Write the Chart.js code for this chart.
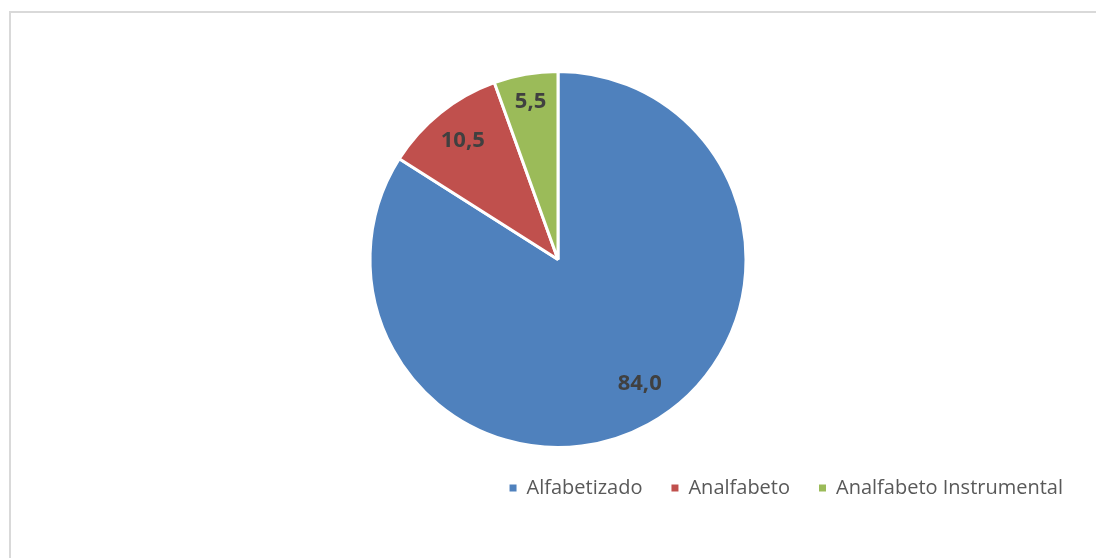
<!DOCTYPE html>
<html>
<head>
<meta charset="utf-8">
<script src="https://cdn.jsdelivr.net/npm/chart.js@4/dist/chart.umd.min.js"></script>
<style>
  html, body { margin: 0; padding: 0; background: #ffffff; overflow: hidden; }
  #wrap { position: relative; width: 1096px; height: 558px; }
  #frame { position: absolute; left: 9px; top: 11px; width: 1200px; height: 700px; border: 2px solid #d9d9d9; box-sizing: border-box; }
  canvas { position: absolute; left: 0; top: 0; }
</style>
</head>
<body>
<div id="wrap">
  <div id="frame"></div>
  <canvas id="c" width="1096" height="558"></canvas>
</div>
<script>
const categories = ["Alfabetizado", "Analfabeto", "Analfabeto Instrumental"];
const values = [84.0, 10.5, 5.5];
const valueLabels = ["84,0", "10,5", "5,5"];
const colors = ["#4F81BD", "#C0504D", "#9BBB59"];

const sliceLabels = {
  id: "sliceLabels",
  afterDatasetsDraw(chart) {
    const ctx = chart.ctx;
    const meta = chart.getDatasetMeta(0);
    ctx.save();
    ctx.font = "bold 22px 'Open Sans'";
    ctx.fillStyle = "#404040";
    ctx.textAlign = "center";
    ctx.textBaseline = "middle";
    meta.data.forEach((arc, i) => {
      const p = arc.getProps(["x", "y", "startAngle", "endAngle", "outerRadius"], true);
      let mid = (p.startAngle + p.endAngle) / 2;
      let ratio = 0.81;
      if (values[i] > 50) { mid -= 0.08; ratio = 0.79; }
      else if (values[i] < 8) { ratio = 0.85; }
      const r = p.outerRadius * ratio;
      ctx.fillText(valueLabels[i], p.x + Math.cos(mid) * r, p.y + Math.sin(mid) * r);
    });
    ctx.restore();
  }
};

new Chart(document.getElementById("c"), {
  type: "pie",
  data: {
    labels: categories,
    datasets: [{
      data: values,
      backgroundColor: colors,
      borderColor: "#ffffff",
      borderWidth: 3
    }]
  },
  options: {
    responsive: false,
    animation: false,
    layout: { padding: { top: 70, bottom: 50, left: 24, right: 4 } },
    plugins: {
      tooltip: { enabled: false },
      legend: {
        position: "bottom",
        align: "end",
        labels: {
          boxWidth: 7,
          boxHeight: 7,
          padding: 29,
          color: "#595959",
          font: { family: "'Open Sans'", size: 20 },
          generateLabels(chart) {
            return categories.map((c, i) => ({
              text: c,
              fillStyle: colors[i],
              strokeStyle: colors[i],
              lineWidth: 0,
              hidden: false,
              index: i,
              fontColor: "#595959"
            }));
          }
        }
      }
    }
  },
  plugins: [sliceLabels]
});
</script>
</body>
</html>
